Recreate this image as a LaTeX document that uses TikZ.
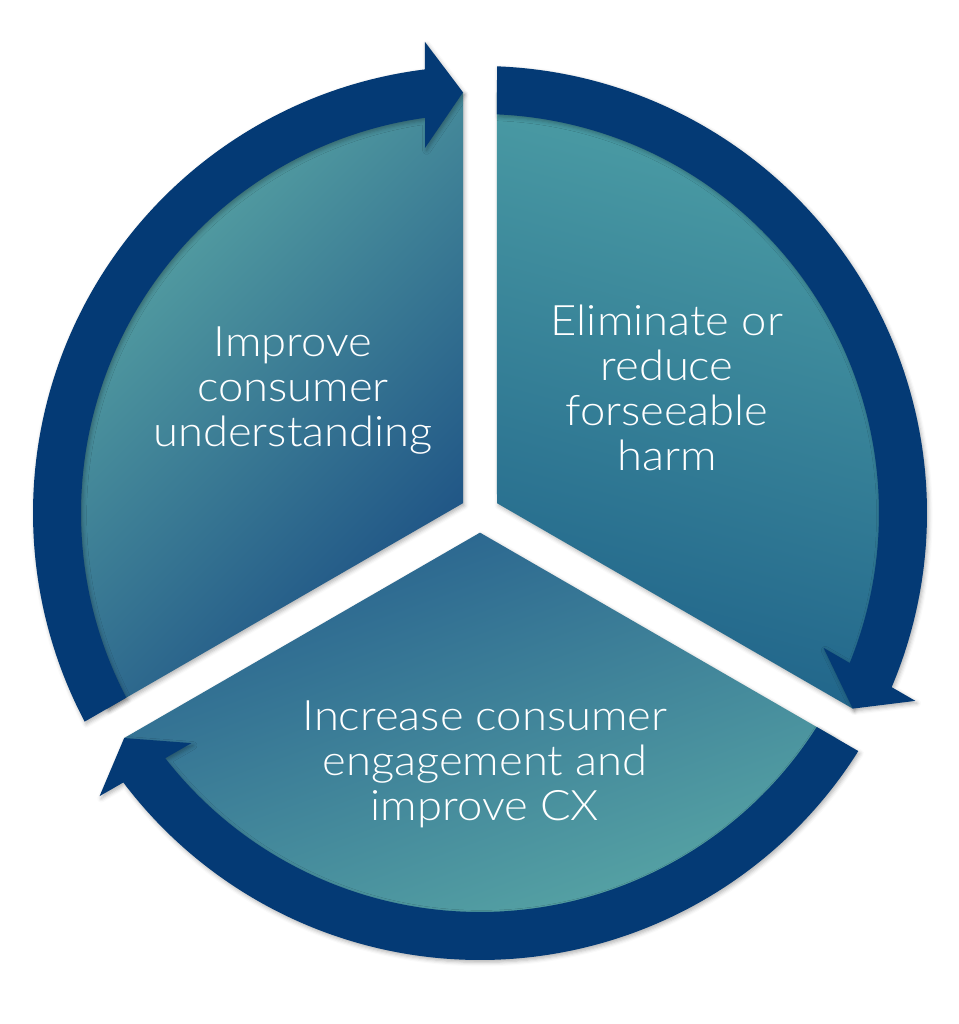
\documentclass[tikz,border=0pt]{standalone}
\usepackage{fontspec}
\IfFontExistsTF{Lato Light}{\setmainfont{Lato Light}[FakeStretch=1.08]}{\setmainfont{Lato}[FakeStretch=1.08]}
\usetikzlibrary{shadows.blur}
\definecolor{ringc}{RGB}{4,58,117}
\definecolor{tlight}{RGB}{92,170,166}
\definecolor{tdark}{RGB}{28,80,132}
\definecolor{rtop}{RGB}{78,160,166}
\definecolor{rbot}{RGB}{32,100,138}
\definecolor{btop}{RGB}{40,98,142}
\definecolor{bbot}{RGB}{94,174,168}
\tikzset{
  shd/.style={blur shadow={shadow xshift=1.2pt, shadow yshift=-1.8pt, shadow blur radius=3pt, shadow opacity=30}},
  ringarrow/.style={fill=ringc, shd},
  lbl/.style={text=white, align=center, font=\fontsize{31.5}{33.75}\selectfont, inner sep=0pt}
}
\begin{document}
\begin{tikzpicture}[x=0.75pt,y=0.75pt]
\useasboundingbox (-480,-511) rectangle (479,513);
% sectors
\shade[shd, shading=axis, top color=tlight, bottom color=tdark, shading angle=45]
  (150:19.63) -- (92.31:421) arc[start angle=92.31, end angle=207.69, radius=421] -- cycle;
\shade[shd, shading=axis, top color=rtop, bottom color=rbot, shading angle=-15]
  (30:19.63) -- (-27.69:421) arc[start angle=-27.69, end angle=87.69, radius=421] -- cycle;
\shade[shd, shading=axis, top color=btop, bottom color=bbot, shading angle=20]
  (270:19.63) -- (212.31:421) arc[start angle=212.31, end angle=327.69, radius=421] -- cycle;
% ring arrows
\foreach \r in {0,-120,-240}{
  \begin{scope}[rotate=\r]
    \path[ringarrow] (207.82:447) arc[start angle=207.82, end angle=97.07, radius=447]
      -- (-55,471) -- (-17,420.66) -- (-55,365) -- (97.92:399)
      arc[start angle=97.92, end angle=207.56, radius=399] -- cycle;
  \end{scope}
}
% labels
\node[lbl] (l1) at (-187,122) {Improve\\consumer\\understanding};
\node[lbl] (l2) at (187,125.5) {Eliminate or\\reduce\\forseeable\\harm};
\node[lbl] (l3) at (5,-251) {Increase consumer\\engagement and\\improve CX};
\end{tikzpicture}
\end{document}
